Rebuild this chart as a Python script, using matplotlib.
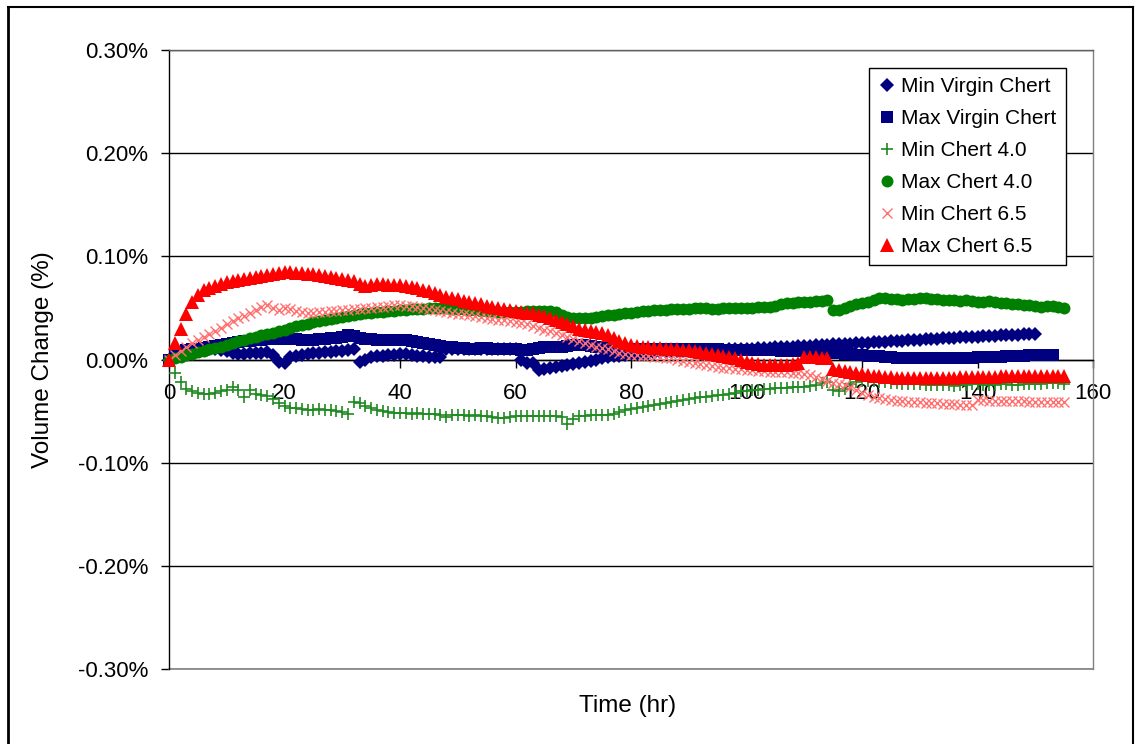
import numpy as np
import matplotlib
matplotlib.use("Agg")
import matplotlib.pyplot as plt
from matplotlib.ticker import FuncFormatter, MultipleLocator
from matplotlib.lines import Line2D

plt.rcParams['font.family'] = ['Liberation Sans', 'DejaVu Sans']
plt.rcParams['axes.unicode_minus'] = False

# Volume change (%) sampled once per hour
min_virgin = [
    0.000, 0.004, 0.006, 0.008, 0.009, 0.009, 0.010, 0.010, 0.010, 0.009,
    0.008, 0.006, 0.005, 0.005, 0.006, 0.006, 0.006, 0.007, 0.004, -0.002,
    -0.003, 0.002, 0.003, 0.004, 0.005, 0.006, 0.006, 0.007, 0.007, 0.008,
    0.008, 0.009, 0.010, -0.002, 0.000, 0.002, 0.003, 0.003, 0.004, 0.004,
    0.005, 0.005, 0.004, 0.003, 0.003, 0.002, 0.002, 0.002, 0.010, 0.010,
    0.010, 0.010, 0.010, 0.010, 0.010, 0.010, 0.010, 0.010, 0.010, 0.010,
    0.010, 0.000, -0.003, -0.003, -0.010, -0.009, -0.008, -0.007, -0.006, -0.005,
    -0.004, -0.003, -0.002, -0.001, 0.000, 0.001, 0.002, 0.003, 0.003, 0.004,
    0.005, 0.005, 0.006, 0.006, 0.006, 0.007, 0.007, 0.007, 0.008, 0.008,
    0.008, 0.008, 0.008, 0.009, 0.009, 0.009, 0.009, 0.010, 0.010, 0.010,
    0.010, 0.010, 0.011, 0.011, 0.011, 0.012, 0.012, 0.012, 0.012, 0.013,
    0.013, 0.013, 0.014, 0.014, 0.014, 0.015, 0.015, 0.015, 0.015, 0.016,
    0.016, 0.016, 0.017, 0.017, 0.017, 0.018, 0.018, 0.018, 0.019, 0.019,
    0.019, 0.020, 0.020, 0.020, 0.021, 0.021, 0.021, 0.022, 0.022, 0.022,
    0.022, 0.023, 0.023, 0.023, 0.024, 0.024, 0.024, 0.024, 0.025, 0.025,
    0.025,
]

max_virgin = [
    0.000, 0.004, 0.007, 0.009, 0.010, 0.010, 0.011, 0.012, 0.013, 0.014,
    0.015, 0.016, 0.017, 0.018, 0.018, 0.019, 0.019, 0.020, 0.020, 0.020,
    0.020, 0.020, 0.020, 0.019, 0.019, 0.019, 0.020, 0.020, 0.021, 0.021,
    0.022, 0.024, 0.023, 0.021, 0.020, 0.020, 0.019, 0.019, 0.019, 0.019,
    0.019, 0.019, 0.018, 0.017, 0.016, 0.015, 0.014, 0.013, 0.012, 0.012,
    0.011, 0.011, 0.010, 0.010, 0.011, 0.011, 0.010, 0.010, 0.010, 0.010,
    0.010, 0.009, 0.009, 0.010, 0.011, 0.012, 0.012, 0.012, 0.012, 0.013,
    0.014, 0.014, 0.014, 0.013, 0.012, 0.012, 0.011, 0.011, 0.010, 0.010,
    0.010, 0.010, 0.010, 0.010, 0.010, 0.010, 0.010, 0.010, 0.010, 0.010,
    0.010, 0.010, 0.010, 0.010, 0.010, 0.010, 0.009, 0.009, 0.009, 0.009,
    0.009, 0.009, 0.009, 0.009, 0.009, 0.009, 0.008, 0.008, 0.008, 0.008,
    0.008, 0.008, 0.007, 0.007, 0.006, 0.006, 0.006, 0.005, 0.005, 0.004,
    0.004, 0.003, 0.003, 0.003, 0.002, 0.002, 0.001, 0.001, 0.001, 0.001,
    0.001, 0.001, 0.001, 0.001, 0.001, 0.001, 0.001, 0.001, 0.001, 0.001,
    0.002, 0.002, 0.002, 0.002, 0.002, 0.003, 0.003, 0.003, 0.003, 0.004,
    0.004, 0.004, 0.004, 0.004,
]

min_chert_40 = [
    0.000, -0.013, -0.022, -0.029, -0.031, -0.032, -0.033, -0.033, -0.032, -0.031,
    -0.030, -0.027, -0.030, -0.036, -0.030, -0.033, -0.034, -0.035, -0.038, -0.042,
    -0.045, -0.047, -0.047, -0.048, -0.049, -0.049, -0.048, -0.049, -0.049, -0.050,
    -0.051, -0.053, -0.041, -0.042, -0.045, -0.047, -0.049, -0.050, -0.051, -0.052,
    -0.052, -0.052, -0.053, -0.052, -0.053, -0.053, -0.053, -0.054, -0.056, -0.054,
    -0.054, -0.054, -0.055, -0.054, -0.055, -0.055, -0.056, -0.057, -0.057, -0.056,
    -0.055, -0.055, -0.055, -0.055, -0.055, -0.055, -0.055, -0.055, -0.056, -0.063,
    -0.058, -0.055, -0.055, -0.054, -0.054, -0.054, -0.054, -0.053, -0.051, -0.049,
    -0.048, -0.047, -0.046, -0.045, -0.044, -0.043, -0.042, -0.041, -0.040, -0.039,
    -0.038, -0.037, -0.036, -0.036, -0.035, -0.034, -0.034, -0.033, -0.032, -0.031,
    -0.031, -0.030, -0.030, -0.029, -0.029, -0.028, -0.028, -0.028, -0.027, -0.027,
    -0.027, -0.026, -0.025, -0.023, -0.022, -0.030, -0.031, -0.029, -0.024, -0.022,
    -0.021, -0.021, -0.021, -0.022, -0.022, -0.023, -0.023, -0.024, -0.024, -0.024,
    -0.024, -0.025, -0.025, -0.025, -0.025, -0.025, -0.026, -0.025, -0.025, -0.024,
    -0.024, -0.025, -0.025, -0.025, -0.024, -0.024, -0.025, -0.025, -0.024, -0.024,
    -0.024, -0.024, -0.023, -0.023, -0.023, -0.024,
]

max_chert_40 = [
    0.000, 0.001, 0.002, 0.004, 0.005, 0.007, 0.008, 0.010, 0.011, 0.012,
    0.014, 0.016, 0.018, 0.019, 0.021, 0.022, 0.024, 0.025, 0.026, 0.028,
    0.029, 0.031, 0.032, 0.033, 0.034, 0.036, 0.037, 0.038, 0.039, 0.040,
    0.041, 0.042, 0.043, 0.044, 0.045, 0.045, 0.046, 0.046, 0.047, 0.047,
    0.048, 0.048, 0.049, 0.049, 0.049, 0.050, 0.050, 0.050, 0.050, 0.049,
    0.049, 0.049, 0.048, 0.048, 0.047, 0.047, 0.047, 0.046, 0.046, 0.046,
    0.046, 0.046, 0.047, 0.047, 0.047, 0.047, 0.047, 0.046, 0.043, 0.041,
    0.040, 0.040, 0.040, 0.040, 0.041, 0.042, 0.043, 0.043, 0.044, 0.045,
    0.045, 0.046, 0.047, 0.047, 0.048, 0.048, 0.048, 0.049, 0.049, 0.049,
    0.049, 0.050, 0.050, 0.050, 0.049, 0.049, 0.050, 0.050, 0.050, 0.050,
    0.050, 0.050, 0.051, 0.051, 0.051, 0.052, 0.054, 0.055, 0.055, 0.056,
    0.056, 0.056, 0.057, 0.057, 0.058, 0.048, 0.048, 0.050, 0.052, 0.054,
    0.055, 0.056, 0.058, 0.060, 0.060, 0.059, 0.059, 0.058, 0.059, 0.059,
    0.060, 0.060, 0.059, 0.059, 0.058, 0.058, 0.058, 0.057, 0.058, 0.057,
    0.056, 0.056, 0.057, 0.056, 0.055, 0.055, 0.054, 0.054, 0.053, 0.053,
    0.052, 0.051, 0.052, 0.052, 0.051, 0.050,
]

min_chert_65 = [
    0.000, 0.004, 0.008, 0.012, 0.016, 0.019, 0.022, 0.025, 0.028, 0.031,
    0.034, 0.037, 0.040, 0.042, 0.045, 0.048, 0.051, 0.053, 0.050, 0.048,
    0.050, 0.049, 0.047, 0.046, 0.045, 0.045, 0.046, 0.046, 0.047, 0.047,
    0.048, 0.048, 0.049, 0.049, 0.050, 0.050, 0.051, 0.051, 0.052, 0.053,
    0.053, 0.052, 0.052, 0.051, 0.050, 0.049, 0.048, 0.047, 0.046, 0.045,
    0.044, 0.044, 0.043, 0.042, 0.041, 0.040, 0.039, 0.038, 0.038, 0.037,
    0.036, 0.035, 0.034, 0.032, 0.031, 0.029, 0.028, 0.026, 0.024, 0.022,
    0.020, 0.018, 0.016, 0.014, 0.012, 0.011, 0.010, 0.008, 0.006, 0.005,
    0.004, 0.004, 0.003, 0.003, 0.002, 0.002, 0.001, 0.001, 0.000, -0.001,
    -0.002, -0.003, -0.004, -0.005, -0.006, -0.007, -0.008, -0.008, -0.009, -0.009,
    -0.010, -0.010, -0.011, -0.011, -0.012, -0.012, -0.012, -0.012, -0.013, -0.013,
    -0.014, -0.015, -0.017, -0.019, -0.021, -0.023, -0.024, -0.025, -0.027, -0.030,
    -0.032, -0.034, -0.036, -0.037, -0.038, -0.039, -0.040, -0.040, -0.041, -0.041,
    -0.041, -0.042, -0.042, -0.042, -0.043, -0.043, -0.043, -0.044, -0.044, -0.044,
    -0.039, -0.039, -0.040, -0.040, -0.040, -0.040, -0.040, -0.040, -0.040, -0.041,
    -0.041, -0.041, -0.041, -0.041, -0.041, -0.041,
]

max_chert_65 = [
    0.000, 0.016, 0.030, 0.044, 0.056, 0.063, 0.067, 0.069, 0.071, 0.073,
    0.075, 0.076, 0.077, 0.078, 0.079, 0.080, 0.081, 0.082, 0.083, 0.084,
    0.085, 0.085, 0.084, 0.084, 0.083, 0.083, 0.082, 0.081, 0.080, 0.079,
    0.078, 0.077, 0.076, 0.073, 0.071, 0.072, 0.073, 0.073, 0.072, 0.072,
    0.072, 0.071, 0.070, 0.069, 0.067, 0.066, 0.064, 0.063, 0.061, 0.060,
    0.059, 0.057, 0.056, 0.055, 0.054, 0.052, 0.051, 0.050, 0.049, 0.048,
    0.047, 0.046, 0.045, 0.045, 0.043, 0.042, 0.040, 0.038, 0.036, 0.034,
    0.032, 0.030, 0.029, 0.028, 0.027, 0.026, 0.024, 0.021, 0.018, 0.016,
    0.014, 0.013, 0.012, 0.012, 0.011, 0.011, 0.010, 0.010, 0.010, 0.009,
    0.009, 0.008, 0.007, 0.006, 0.005, 0.004, 0.003, 0.002, 0.001, 0.000,
    -0.002, -0.003, -0.004, -0.005, -0.005, -0.005, -0.005, -0.005, -0.004, -0.003,
    0.002, 0.002, 0.002, 0.001, 0.001, -0.009, -0.010, -0.011, -0.012, -0.013,
    -0.014, -0.015, -0.016, -0.016, -0.017, -0.017, -0.018, -0.018, -0.018, -0.018,
    -0.018, -0.018, -0.018, -0.018, -0.018, -0.018, -0.018, -0.017, -0.017, -0.017,
    -0.017, -0.017, -0.017, -0.017, -0.016, -0.016, -0.016, -0.016, -0.016, -0.016,
    -0.016, -0.016, -0.016, -0.016, -0.016, -0.016,
]

series = [
    ("Min Virgin Chert", min_virgin,   dict(marker='D', color='#000080', ms=6.8, mew=0)),
    ("Max Virgin Chert", max_virgin,   dict(marker='s', color='#000080', ms=8.5, mew=0)),
    ("Min Chert 4.0",    min_chert_40, dict(marker='+', color='#1F8A1F', ms=9.0, mew=1.2)),
    ("Max Chert 4.0",    max_chert_40, dict(marker='o', color='#008000', ms=8.6, mew=0)),
    ("Min Chert 6.5",    min_chert_65, dict(marker='x', color='#FF7070', ms=7.5, mew=1.0)),
    ("Max Chert 6.5",    max_chert_65, dict(marker='^', color='#FF0000', ms=9.5, mew=0)),
]

fig = plt.figure(figsize=(11.4, 7.44), dpi=100)
ax = fig.add_axes([169 / 1140, 1 - 669 / 744, (1093 - 169) / 1140, (669 - 50) / 744])

for label, vals, st in series:
    hours = np.arange(len(vals))
    ax.plot(hours, vals, linestyle='none', marker=st['marker'], color=st['color'],
            markersize=st['ms'], markeredgewidth=st['mew'], label=label, clip_on=False,
            zorder=3)

ax.set_xlim(0, 160)
ax.set_ylim(-0.3, 0.3)
ax.xaxis.set_major_locator(MultipleLocator(20))
ax.yaxis.set_major_locator(MultipleLocator(0.1))
ax.yaxis.set_major_formatter(FuncFormatter(lambda v, _: f"{v:.2f}%".replace("-0.00", "0.00")))

# horizontal gridlines, black
ax.grid(axis='y', color='black', linewidth=1.0, zorder=1)
ax.set_axisbelow(True)

# frame: left spine black, x-axis crossing at zero
ax.spines['bottom'].set_position(('data', 0))
ax.spines['bottom'].set_color('black')
ax.spines['left'].set_color('black')
ax.spines['top'].set_color('#606060')
ax.spines['right'].set_color('#808080')
for s in ax.spines.values():
    s.set_linewidth(1.0)
ax.axhline(-0.3, color='#808080', linewidth=1.2, zorder=1, clip_on=False)

ax.tick_params(axis='x', direction='out', length=6, width=1, pad=11, labelsize=16)
ax.tick_params(axis='y', direction='out', length=6, width=1, pad=9, labelsize=16)

ax.set_ylabel("Volume Change (%)", fontsize=17.5)
ax.set_xlabel("Time (hr)", fontsize=17.5)
ax.xaxis.set_label_coords((628 - 169) / 924, -(695 - 669) / 619)
ax.yaxis.set_label_coords(-(169 - 54) / 924, 0.5)

leg = ax.legend(loc='upper right', bbox_to_anchor=((1066 - 169) / 924, (669 - 68) / 619),
                borderaxespad=0, frameon=True, fancybox=False, framealpha=1,
                edgecolor='black', fontsize=15, numpoints=1, handlelength=0.8,
                handletextpad=0.3, labelspacing=0.62, borderpad=0.45)
leg.get_frame().set_linewidth(1.0)
leg.set_zorder(5)

# outer border of the figure
fig.add_artist(Line2D([8 / 1140, 8 / 1140], [0, 1 - 7 / 744], color='black', lw=2.0))
fig.add_artist(Line2D([8 / 1140, 1133 / 1140], [1 - 7 / 744, 1 - 7 / 744], color='black', lw=1.5))
fig.add_artist(Line2D([1133 / 1140, 1133 / 1140], [0, 1 - 7 / 744], color='black', lw=1.5))

fig.savefig("out.png", dpi=100)
